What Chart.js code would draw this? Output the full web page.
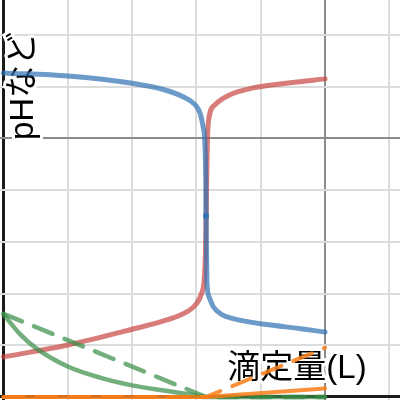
<!DOCTYPE html>
<html>
<head>
<meta charset="utf-8">
<script src="https://cdn.jsdelivr.net/npm/chart.js@4/dist/chart.umd.min.js"></script>
<style>
    html, body { margin: 0; padding: 0; background: #fff; }
    #wrap { width: 400px; height: 400px; }
</style>
</head>
<body>
<div id="wrap"><canvas id="chart-0"></canvas></div>
<script>
// titration volume (grid units) and pH
var blueVol = [0, 1.0, 2.0, 2.5, 2.8, 2.98, 3.06, 3.1, 3.13, 3.145, 3.15, 3.158, 3.165, 3.2, 3.26, 3.4, 3.57, 4.1, 4.6, 5.0];
var bluePH = [12.53, 12.41, 12.13, 11.88, 11.6, 11.3, 10.95, 10.5, 9.9, 8.5, 7.0, 5.5, 4.4, 3.85, 3.5, 3.18, 3.03, 2.8, 2.65, 2.51];

var redVol = [0, 1.0, 2.0, 2.54, 2.85, 3.0, 3.08, 3.12, 3.14, 3.152, 3.16, 3.17, 3.19, 3.29, 3.49, 3.88, 4.46, 5.0];
var redPH = [1.55, 2.01, 2.62, 2.98, 3.29, 3.6, 4.0, 4.5, 5.5, 7.0, 8.5, 9.8, 10.7, 11.3, 11.65, 11.95, 12.15, 12.3];

var greenVol = [0, 0.25, 0.5, 1.0, 1.5, 2.0, 2.5, 2.9, 3.15, 5.0];
var greenVal = [3.2, 2.45, 1.9, 1.18, 0.75, 0.45, 0.25, 0.1, 0, 0];

var greenDashVol = [0, 3.15, 5.0];
var greenDashVal = [3.22, 0, 0];

var orangeVol = [0, 3.15, 5.0];
var orangeVal = [0, 0, 0.33];
var orangeDashVal = [0, 0, 1.9];

var eqVol = [3.15];
var eqPH = [7.0];

var xTitle = '滴定量(L)';
var yTitle = 'pHなど';

function toPoints(xs, ys) {
    var pts = [];
    for (var i = 0; i < xs.length; i++) {
        pts.push({x: xs[i], y: ys[i]});
    }
    return pts;
}

function gridColor(dark, ctx) {
    var v = ctx.tick.value;
    if (v === 0) return '#1b1b1b';
    if (v === dark) return '#8c8c8c';
    return '#dcdcdc';
}

function gridWidth(ctx) {
    return ctx.tick.value === 0 ? 3 : 2;
}

// labels sit under the curves, with a white halo over the grid
var labelsPlugin = {
    id: 'labels',
    beforeDatasetsDraw: function (chart) {
        var c = chart.ctx;
        c.save();
        c.font = '33px "Liberation Sans", "Noto Sans CJK JP", sans-serif';
        c.textAlign = 'center';
        c.textBaseline = 'middle';
        c.lineJoin = 'round';
        c.lineWidth = 6;
        c.strokeStyle = '#fff';
        c.fillStyle = '#000';

        c.strokeText(xTitle, 297, 369);
        c.fillText(xTitle, 297, 369);

        c.translate(24, 86);
        c.rotate(-Math.PI / 2);
        c.strokeText(yTitle, 0, 0);
        c.fillText(yTitle, 0, 0);
        c.restore();
    }
};

var line = function (xs, ys, color, width, dash, order, smooth) {
    return {
        data: toPoints(xs, ys),
        borderColor: color,
        borderWidth: width,
        borderDash: dash,
        pointRadius: 0,
        showLine: true,
        fill: false,
        order: order,
        cubicInterpolationMode: smooth ? 'monotone' : 'default',
        tension: 0,
        borderCapStyle: 'round'
    };
};

new Chart('chart-0', {
    type: 'scatter',
    data: {
        datasets: [
            line(redVol, redPH, 'rgba(199,68,64,0.7)', 5, [], 6, true),
            line(blueVol, bluePH, 'rgba(45,112,179,0.7)', 5, [], 5, true),
            line(greenVol, greenVal, 'rgba(56,140,70,0.7)', 4.5, [], 4, true),
            line(greenDashVol, greenDashVal, 'rgba(56,140,70,0.7)', 4.5, [20, 13], 3, false),
            line(orangeVol, orangeVal, 'rgba(250,126,25,0.85)', 4, [], 2, false),
            line(orangeVol, orangeDashVal, 'rgba(250,126,25,0.85)', 4, [20, 13], 1, false),
            {
                data: toPoints(eqVol, eqPH),
                pointRadius: 3,
                pointBackgroundColor: 'rgba(45,112,179,0.9)',
                pointBorderWidth: 0,
                showLine: false,
                order: 0
            }
        ]
    },
    options: {
        responsive: true,
        maintainAspectRatio: false,
        animation: false,
        layout: {padding: 0, autoPadding: false},
        plugins: {
            legend: {display: false},
            tooltip: {enabled: false}
        },
        scales: {
            x: {
                type: 'linear',
                min: -0.054,
                max: 6.166,
                border: {display: false},
                ticks: {display: false, stepSize: 1, includeBounds: false},
                grid: {
                    drawTicks: false,
                    color: function (ctx) { return gridColor(5, ctx); },
                    lineWidth: gridWidth
                },
                afterFit: function (scale) { scale.height = 0; }
            },
            y: {
                type: 'linear',
                min: -0.116,
                max: 15.35,
                border: {display: false},
                ticks: {display: false, stepSize: 2, includeBounds: false},
                grid: {
                    drawTicks: false,
                    color: function (ctx) { return gridColor(10, ctx); },
                    lineWidth: gridWidth
                },
                afterFit: function (scale) { scale.width = 0; }
            }
        }
    },
    plugins: [labelsPlugin]
});
</script>
</body>
</html>
